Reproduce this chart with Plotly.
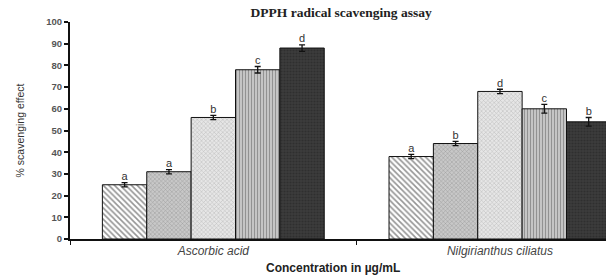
import plotly.graph_objects as go

categories = ["Ascorbic acid", "Nilgirianthus ciliatus"]
series_names = ["C1", "C2", "C3", "C4", "C5"]
values = [
    [25, 38],
    [31, 44],
    [56, 68],
    [78, 60],
    [88, 54],
]
errors = [
    [1.0, 1.0],
    [1.0, 1.0],
    [1.0, 1.0],
    [1.5, 2.0],
    [1.5, 2.0],
]
letters = [
    ["a", "a"],
    ["a", "b"],
    ["b", "d"],
    ["c", "c"],
    ["d", "b"],
]
y_ticks = [0, 10, 20, 30, 40, 50, 60, 70, 80, 90, 100]

patterns = [
    dict(shape="\\", bgcolor="#ffffff", fgcolor="#2a2a2a", size=4, solidity=0.4),
    dict(shape="x", bgcolor="#c8c8c8", fgcolor="#6a6a6a", size=3, solidity=0.3),
    dict(shape="x", bgcolor="#e6e6e6", fgcolor="#8a8a8a", size=3, solidity=0.3),
    dict(shape="|", bgcolor="#cfcfcf", fgcolor="#555555", size=3, solidity=0.45),
    dict(shape=".", bgcolor="#3c3c3c", fgcolor="#222222", size=3, solidity=0.4),
]

fig = go.Figure()
for i, name in enumerate(series_names):
    fig.add_trace(go.Bar(
        x=categories, y=values[i], name=name,
        marker=dict(pattern=patterns[i], color=patterns[i]["bgcolor"],
                    line=dict(color="#111111", width=1)),
        error_y=dict(type="data", array=errors[i], color="#111111", thickness=1.3, width=3),
        showlegend=False,
    ))
for i, name in enumerate(series_names):
    fig.add_trace(go.Scatter(
        x=categories, y=[v + e for v, e in zip(values[i], errors[i])],
        mode="text", text=letters[i], textposition="top center",
        textfont=dict(family="Arial", size=11, color="#333333"),
        showlegend=False, hoverinfo="skip", cliponaxis=False,
    ))

fig.update_layout(
    width=606, height=276,
    margin=dict(l=70, r=0, t=22, b=37, autoexpand=False),
    paper_bgcolor="white", plot_bgcolor="white",
    barmode="group", bargap=0.226, bargroupgap=0,
    scattermode="group", scattergap=0.226,
    title=dict(text="<b>DPPH radical scavenging assay</b>", x=0.563, xanchor="center",
               y=0.955, yanchor="middle",
               font=dict(family="Liberation Serif", size=13.5, color="#222222")),
)
fig.update_xaxes(
    range=[-0.5, 1.37], showline=True, linecolor="#111111", linewidth=1.5,
    ticks="outside", tickson="boundaries", ticklen=4, tickcolor="#111111",
    tickfont=dict(family="Arial", size=12, color="#444444", style="italic"),
    showgrid=False, zeroline=False, automargin=False,
)
fig.update_yaxes(
    range=[0, 100], tickvals=y_ticks, showline=True, linecolor="#111111", linewidth=2,
    ticks="outside", ticklen=4, tickwidth=1.5, tickcolor="#111111",
    tickfont=dict(family="Arial", size=9.5, color="#555555", weight="bold"),
    showgrid=False, zeroline=False, automargin=False,
    title=dict(text="% scavenging effect", standoff=20,
               font=dict(family="Liberation Sans Narrow, Arial", size=10.5, color="#333333")),
)
fig.add_annotation(
    text="<b>Concentration in µg/mL</b>", xref="paper", yref="paper",
    x=(333 - 70) / 536, y=-29 / 217, xanchor="center", yanchor="middle", showarrow=False,
    font=dict(family="Arial", size=12, color="#222222"),
)
fig.write_html("out.html", config={"displayModeBar": False},
               post_script="document.body.style.margin='0';document.body.style.overflow='hidden';")
